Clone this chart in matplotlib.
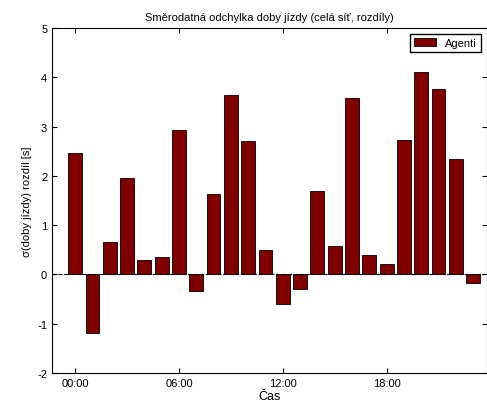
import matplotlib
matplotlib.use("Agg")
import matplotlib.pyplot as plt
import numpy as np

plt.rcParams["font.family"] = ["Liberation Sans", "DejaVu Sans"]
plt.rcParams["axes.unicode_minus"] = False

hours = np.arange(24)
values = [2.47, -1.2, 0.65, 1.96, 0.3, 0.35, 2.92, -0.33, 1.63, 3.63, 2.7, 0.5,
          -0.6, -0.3, 1.7, 0.58, 3.57, 0.4, 0.2, 2.73, 4.1, 3.77, 2.35, -0.18]
tick_pos = [0, 6, 12, 18]
tick_labels = ["00:00", "06:00", "12:00", "18:00"]

fig = plt.figure(figsize=(4.87, 4.14), dpi=100)
ax = fig.add_axes([0.107, 0.097, 0.893, 0.833])
ax.bar(hours, values, width=0.8, color="#800000", edgecolor="black", linewidth=0.6, label="Agenti")
ax.axhline(0, color="black", linestyle="--", linewidth=0.8)
ax.set_xlim(-1.33, 23.8)
ax.set_ylim(-2, 5)
ax.set_xticks(tick_pos)
ax.set_xticklabels(tick_labels)
ax.set_yticks(range(-2, 6))
ax.tick_params(labelsize=8, direction="in", top=True, right=True)
ax.set_xlabel("Čas", fontsize=9, labelpad=2)
ax.set_ylabel("σ(doby jízdy) rozdíl [s]", fontsize=8)
ax.set_title("Směrodatná odchylka doby jízdy (celá síť, rozdíly)", fontsize=8)
ax.legend(loc="upper right", fontsize=8, fancybox=False, edgecolor="black", framealpha=1)
fig.savefig("out.png", dpi=100)
